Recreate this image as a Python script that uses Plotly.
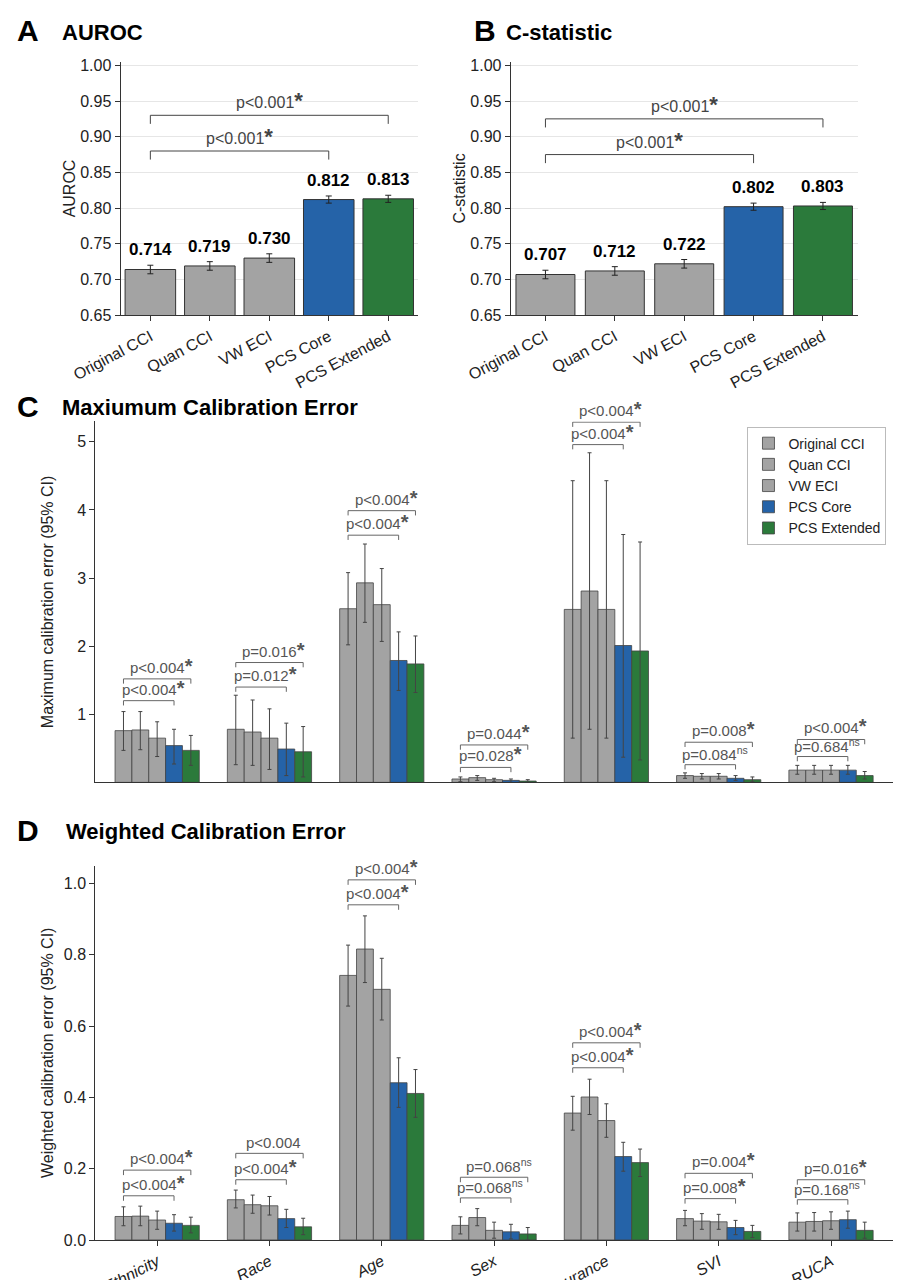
import plotly.graph_objects as go

models = ["Original CCI", "Quan CCI", "VW ECI", "PCS Core", "PCS Extended"]
colors = ["#a3a3a3", "#a3a3a3", "#a3a3a3", "#2563a8", "#2b7a3b"]

auroc = [0.714, 0.719, 0.730, 0.812, 0.813]
auroc_err = [0.006, 0.006, 0.006, 0.005, 0.005]
cstat = [0.707, 0.712, 0.722, 0.802, 0.803]
cstat_err = [0.006, 0.006, 0.006, 0.005, 0.005]

groups = ["Ethnicity", "Race", "Age", "Sex", "Insurance", "SVI", "RUCA"]

mce = [
    [0.76, 0.78, 2.55, 0.05, 2.54, 0.10, 0.18],
    [0.77, 0.74, 2.93, 0.07, 2.81, 0.09, 0.18],
    [0.65, 0.65, 2.61, 0.04, 2.54, 0.09, 0.18],
    [0.54, 0.49, 1.79, 0.03, 2.01, 0.06, 0.18],
    [0.47, 0.45, 1.74, 0.02, 1.93, 0.04, 0.10],
]
mce_lo = [
    [0.47, 0.26, 2.02, 0.01, 0.65, 0.06, 0.12],
    [0.48, 0.25, 2.35, 0.03, 0.78, 0.05, 0.12],
    [0.38, 0.19, 2.07, 0.01, 0.65, 0.05, 0.12],
    [0.27, 0.10, 1.35, 0.00, 0.37, 0.03, 0.12],
    [0.25, 0.08, 1.32, 0.00, 0.33, 0.01, 0.05],
]
mce_hi = [
    [1.04, 1.28, 3.08, 0.08, 4.43, 0.14, 0.25],
    [1.04, 1.21, 3.50, 0.10, 4.84, 0.13, 0.25],
    [0.89, 1.08, 3.14, 0.06, 4.43, 0.13, 0.25],
    [0.78, 0.87, 2.21, 0.05, 3.64, 0.10, 0.25],
    [0.69, 0.82, 2.15, 0.04, 3.53, 0.08, 0.16],
]
wce = [
    [0.066, 0.113, 0.742, 0.041, 0.356, 0.060, 0.050],
    [0.067, 0.099, 0.816, 0.063, 0.401, 0.053, 0.052],
    [0.056, 0.096, 0.703, 0.027, 0.335, 0.051, 0.054],
    [0.047, 0.060, 0.441, 0.023, 0.234, 0.035, 0.057],
    [0.041, 0.037, 0.411, 0.017, 0.217, 0.024, 0.027],
]
wce_lo = [
    [0.040, 0.090, 0.656, 0.017, 0.308, 0.040, 0.025],
    [0.040, 0.075, 0.722, 0.040, 0.352, 0.030, 0.025],
    [0.030, 0.070, 0.617, 0.005, 0.288, 0.030, 0.030],
    [0.025, 0.035, 0.372, 0.003, 0.193, 0.015, 0.033],
    [0.020, 0.015, 0.344, 0.000, 0.178, 0.007, 0.005],
]
wce_hi = [
    [0.093, 0.140, 0.827, 0.065, 0.403, 0.083, 0.076],
    [0.095, 0.126, 0.909, 0.088, 0.451, 0.074, 0.077],
    [0.081, 0.122, 0.790, 0.050, 0.382, 0.072, 0.079],
    [0.071, 0.086, 0.511, 0.044, 0.274, 0.055, 0.081],
    [0.064, 0.061, 0.478, 0.035, 0.255, 0.041, 0.050],
]

mce_p_low = ["p<0.004", "p=0.012", "p<0.004", "p=0.028", "p<0.004", "p=0.084", "p=0.684"]
mce_p_low_sig = [True, True, True, True, True, False, False]
mce_p_up = ["p<0.004", "p=0.016", "p<0.004", "p=0.044", "p<0.004", "p=0.008", "p<0.004"]
mce_p_up_sig = [True, True, True, True, True, True, True]
mce_br_low = [1.20, 1.40, 3.63, 0.22, 4.96, 0.26, 0.38]
mce_br_up = [1.52, 1.76, 3.99, 0.55, 5.29, 0.59, 0.63]

wce_p_low = ["p<0.004", "p<0.004", "p<0.004", "p=0.068", "p<0.004", "p=0.008", "p=0.168"]
wce_p_low_sig = [True, True, True, False, True, True, False]
wce_p_up = ["p<0.004", "p<0.004", "p<0.004", "p=0.068", "p<0.004", "p=0.004", "p=0.016"]
wce_p_up_sig = [True, None, True, False, True, True, True]
wce_br_low = [0.124, 0.169, 0.94, 0.118, 0.483, 0.116, 0.113]
wce_br_up = [0.196, 0.243, 1.01, 0.176, 0.553, 0.187, 0.169]

FONT = "Liberation Sans"
fig = go.Figure()
annots = []

def star_text(lbl, sig):
    if sig is True:
        return lbl + "<span style='font-size:20px'><b>*</b></span>"
    if sig is False:
        return lbl + "<sup>ns</sup>"
    return lbl

for vals, errs, xa, ya, br in [(auroc, auroc_err, "x", "y", (0.88, 0.93)),
                               (cstat, cstat_err, "x2", "y2", (0.875, 0.925))]:
    fig.add_trace(go.Bar(x=models, y=vals, marker_color=colors,
                         marker_line=dict(color="#333", width=1), width=0.85,
                         error_y=dict(type="data", array=errs, color="#222", thickness=1, width=3),
                         xaxis=xa, yaxis=ya, showlegend=False))
    for m, v, e in zip(models, vals, errs):
        annots.append(dict(x=m, y=v + e, xref=xa, yref=ya, text=f"<b>{v:.3f}</b>", showarrow=False,
                           yanchor="bottom", yshift=4, font=dict(size=17, color="black")))
    for lvl, end in [(br[0], 3), (br[1], 4)]:
        xs = [models[0], models[0], models[end], models[end]]
        fig.add_trace(go.Scatter(x=xs, y=[lvl - 0.012, lvl, lvl, lvl - 0.012], mode="lines",
                                 line=dict(color="#444", width=1), xaxis=xa, yaxis=ya,
                                 showlegend=False, hoverinfo="skip"))
        annots.append(dict(x=(end) / 2, y=lvl, xref=xa, yref=ya,
                           text="p<0.001<span style='font-size:22px'><b>*</b></span>",
                           showarrow=False, yanchor="bottom", yshift=0,
                           font=dict(size=16, color="#444")))

gidx = list(range(len(groups)))
w = 0.15
for (vals, lo, hi, xa, ya, legend, pl, pls, pu, pus, bl, bu, tick) in [
        (mce, mce_lo, mce_hi, "x3", "y3", True, mce_p_low, mce_p_low_sig, mce_p_up, mce_p_up_sig,
         mce_br_low, mce_br_up, 0.07),
        (wce, wce_lo, wce_hi, "x4", "y4", False, wce_p_low, wce_p_low_sig, wce_p_up, wce_p_up_sig,
         wce_br_low, wce_br_up, 0.014)]:
    for k in range(5):
        fig.add_trace(go.Bar(x=gidx, y=vals[k], name=models[k], marker_color=colors[k],
                             marker_line=dict(color="#444", width=0.8),
                             error_y=dict(type="data", symmetric=False,
                                          array=[h - v for h, v in zip(hi[k], vals[k])],
                                          arrayminus=[v - l for v, l in zip(vals[k], lo[k])],
                                          color="#444", thickness=1, width=2),
                             xaxis=xa, yaxis=ya, showlegend=legend, legendgroup=models[k]))
    for i in gidx:
        x0 = i - 2 * w
        for lvl, end, lbl, sig in [(bl[i], i + w, pl[i], pls[i]), (bu[i], i + 2 * w, pu[i], pus[i])]:
            fig.add_trace(go.Scatter(x=[x0, x0, end, end], y=[lvl - tick, lvl, lvl, lvl - tick],
                                     mode="lines", line=dict(color="#666", width=1),
                                     xaxis=xa, yaxis=ya, showlegend=False, hoverinfo="skip"))
            annots.append(dict(x=(x0 + end) / 2 + 0.04, y=lvl, xref=xa, yref=ya,
                               text=star_text(lbl, sig), showarrow=False, yanchor="bottom",
                               font=dict(size=15, color="#555")))

for x, y, t in [(0.008, 0.997, "<b>A</b>"), (0.515, 0.997, "<b>B</b>"),
                (0.008, 0.703, "<b>C</b>"), (0.008, 0.372, "<b>D</b>")]:
    annots.append(dict(x=x, y=y, xref="paper", yref="paper", text=t, showarrow=False,
                       xanchor="left", yanchor="top", font=dict(size=30, color="black")))
for x, y, t in [(0.058, 0.992, "<b>AUROC</b>"), (0.55, 0.992, "<b>C-statistic</b>"),
                (0.058, 0.699, "<b>Maxiumum Calibration Error</b>"),
                (0.062, 0.368, "<b>Weighted Calibration Error</b>")]:
    annots.append(dict(x=x, y=y, xref="paper", yref="paper", text=t, showarrow=False,
                       xanchor="left", yanchor="top", font=dict(size=22, color="black")))

ax_common = dict(showline=True, linecolor="#333", linewidth=1.2, ticks="outside",
                 tickcolor="#333", tickfont=dict(size=16, color="#222"), zeroline=False)
fig.update_layout(
    width=901, height=1280, template="none", barmode="group", bargap=0.25, bargroupgap=0,
    font=dict(family=FONT, color="#222"),
    margin=dict(l=0, r=0, t=0, b=0),
    paper_bgcolor="white", plot_bgcolor="white",
    annotations=annots,
    legend=dict(x=0.975, y=0.673, xanchor="right", yanchor="top", bordercolor="#bbb",
                borderwidth=1, font=dict(size=14), bgcolor="white", tracegroupgap=0),
    xaxis=dict(domain=[0.125, 0.455], anchor="y", tickangle=-28, **ax_common),
    yaxis=dict(domain=[0.760, 0.958], anchor="x", range=[0.65, 1.005], dtick=0.05,
               tickformat=".2f", showgrid=True, gridcolor="#e6e6e6",
               title=dict(text="AUROC", font=dict(size=16)), **ax_common),
    xaxis2=dict(domain=[0.558, 0.943], anchor="y2", tickangle=-28, **ax_common),
    yaxis2=dict(domain=[0.760, 0.958], anchor="x2", range=[0.65, 1.005], dtick=0.05,
                tickformat=".2f", showgrid=True, gridcolor="#e6e6e6",
                title=dict(text="C-statistic", font=dict(size=16)), **ax_common),
    xaxis3=dict(domain=[0.097, 0.982], anchor="y3", range=[-0.55, 6.55], showline=True,
                linecolor="#333", linewidth=1.2, showticklabels=False, ticks="", showgrid=False,
                zeroline=False),
    yaxis3=dict(domain=[0.395, 0.677], anchor="x3", range=[0, 5.3], tickvals=[1, 2, 3, 4, 5],
                showgrid=False,
                title=dict(text="Maximum calibration error (95% CI)", font=dict(size=16)),
                **ax_common),
    xaxis4=dict(domain=[0.097, 0.982], anchor="y4", range=[-0.55, 6.55], tickvals=gidx,
                ticktext=[f"<i>{g}</i>" for g in groups], tickangle=-28, showgrid=False,
                **ax_common),
    yaxis4=dict(domain=[0.0375, 0.330], anchor="x4", range=[0, 1.05], dtick=0.2,
                tickformat=".1f", showgrid=False,
                title=dict(text="Weighted calibration error (95% CI)", font=dict(size=16)),
                **ax_common),
)
fig.update_traces(cliponaxis=False, selector=dict(type="bar"))
fig.update_traces(cliponaxis=False, selector=dict(type="scatter"))
fig.write_html("out.html")
